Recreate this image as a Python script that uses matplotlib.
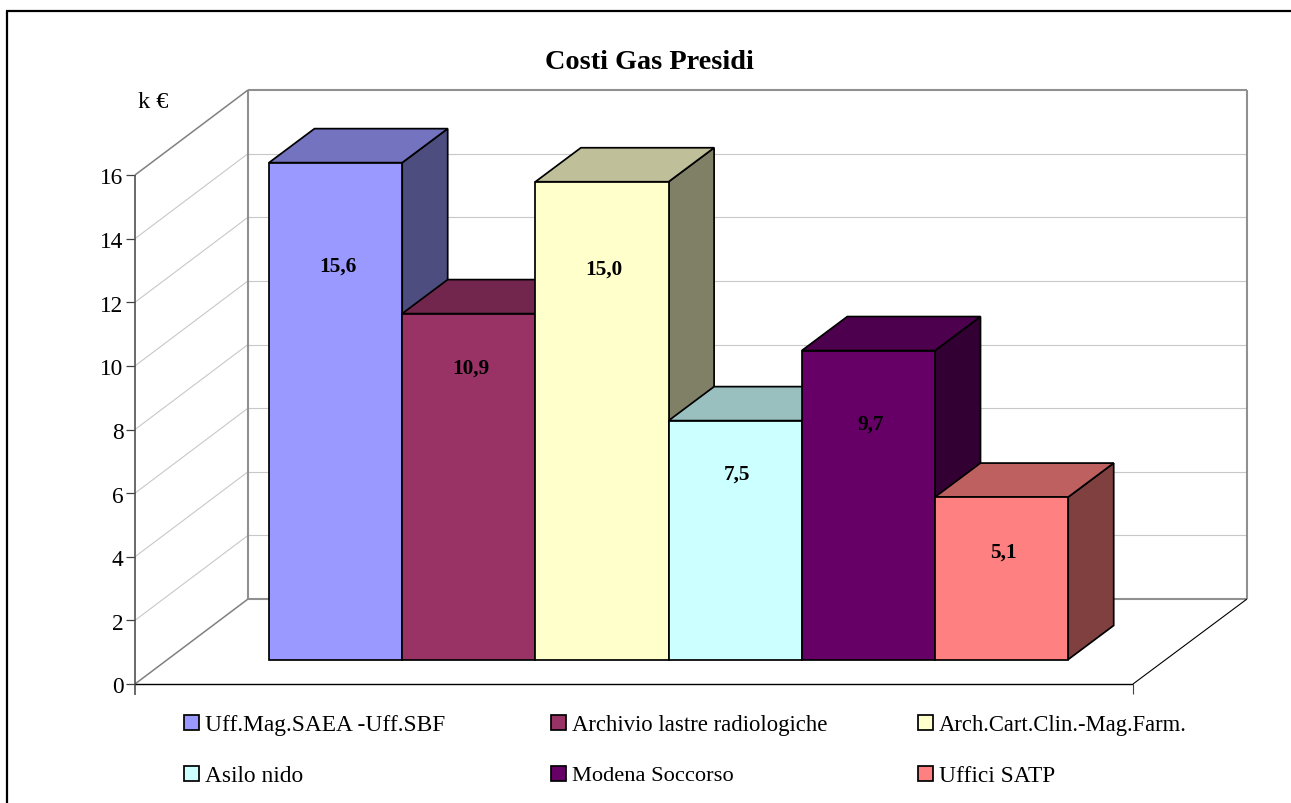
import matplotlib
matplotlib.use("Agg")
import matplotlib.pyplot as plt
from matplotlib.patches import Polygon, Rectangle

categories = ["Uff.Mag.SAEA -Uff.SBF", "Archivio lastre radiologiche", "Arch.Cart.Clin.-Mag.Farm.",
              "Asilo nido", "Modena Soccorso", "Uffici SATP"]
values = [15.6, 10.86, 15.0, 7.5, 9.7, 5.1]
value_labels = ["15,6", "10,9", "15,0", "7,5", "9,7", "5,1"]
colors = ["#9999FF", "#993366", "#FFFFCC", "#CCFFFF", "#660066", "#FF8080"]
y_ticks = [0, 2, 4, 6, 8, 10, 12, 14, 16]
title = "Costi Gas Presidi"
unit = "k €"

W, H = 1291, 804
X0, BW = 269.0, 133.2     # pixel of first bar edge, bar width
Y0, PU = 660.5, 31.85     # pixel of bar base, pixels per unit
DX, DY = 45.5, 34.0       # bar depth in pixels
label_drop = [103, 54, 87, 53, 73, 55]  # label centre, pixels below bar top
legend_sizes = [16.8, 16.35, 16.3, 16.8, 16.2, 16.8]

plt.rcParams["font.family"] = ["Liberation Serif", "DejaVu Serif"]
fig = plt.figure(figsize=(W / 100, H / 100), dpi=100, facecolor="white")
ax = fig.add_axes([0, 0, 1, 1])
ax.set_xlim(-X0 / BW, (W - X0) / BW)
ax.set_ylim((Y0 - H) / PU, Y0 / PU)
ax.axis("off")

def P(px, py):
    return ((px - X0) / BW, (Y0 - py) / PU)

def line(p1, p2, c, lw, z=1):
    a, b = P(*p1), P(*p2)
    ax.plot([a[0], b[0]], [a[1], b[1]], color=c, lw=lw, zorder=z, solid_capstyle="butt")

# chart border (left and top only reach the image)
line((7, 804), (7, 12), "black", 1.6)
line((6.4, 12), (1291, 12), "black", 1.6)

# walls
FL, FR, FB, FT = 135, 1133, 685, 176
BL, BR, BB, BT = 248, 1247, 600, 91
step = (FB - FT) / 16
for t in y_ticks[1:-1]:
    yf = FB - t * step
    yb = BB - t * step
    line((FL, yf), (BL, yb), "#C8C8C8", 0.8)
    line((BL, yb), (BR, yb), "#C8C8C8", 0.8)
for t in y_ticks:
    yf = FB - t * step
    line((126, yf), (FL, yf), "#404040", 0.9)
    ax.text(*P(123.5, yf + 3), str(t), ha="right", va="center", fontsize=16.8, color="black")
line((BL, BT), (BR, BT), "#909090", 1.5)
line((BR, BT), (BR, BB), "#909090", 1.5)
line((BL, BT), (BL, BB), "#909090", 1.5)
line((BL, BB), (BR, BB), "#909090", 1.5)
line((FL, FT), (BL, BT), "#808080", 1.1)
line((FL, FB), (BL, BB), "#808080", 1.1)
line((FL, FT), (FL, 696), "#505050", 1.2)
line((FL, FB), (FR, FB), "black", 1.0)
line((FR, FB), (BR, BB), "black", 0.8)
line((FR, FB), (FR, 695), "#404040", 0.8)

# bars
ddx, ddy = DX / BW, DY / PU
def shade(col, f):
    r, g, b = matplotlib.colors.to_rgb(col)
    return (r * f, g * f, b * f)

for i, (v, c) in enumerate(zip(values, colors)):
    L, R = float(i), i + 1.0
    kw = dict(edgecolor="black", lw=1.25, joinstyle="miter")
    ax.add_patch(Polygon([(R, 0), (R + ddx, ddy), (R + ddx, v + ddy), (R, v)],
                         facecolor=shade(c, 0.5), zorder=2 + i, **kw))
    ax.add_patch(Polygon([(L, v), (R, v), (R + ddx, v + ddy), (L + ddx, v + ddy)],
                         facecolor=shade(c, 0.75), zorder=2 + i, **kw))
    ax.add_patch(Rectangle((L, 0), 1, v, facecolor=c, zorder=2 + i, **kw))
    ax.text(i + 0.515, v - label_drop[i] / PU, value_labels[i], ha="center", va="center",
            fontsize=15.3, fontweight="bold", color="black", zorder=20)

# titles
ax.text(*P(649, 62.5), title, ha="center", va="center", fontsize=20.3, fontweight="bold")
ax.text(*P(153.5, 103), unit, ha="center", va="center", fontsize=17.5)

# legend
col_x = [184, 551, 918]
row_y = [724, 775]
for i, (n, c) in enumerate(zip(categories, colors)):
    x, y = col_x[i % 3], row_y[i // 3]
    a = P(x, y + 7)
    ax.add_patch(Rectangle(a, 15 / BW, 15 / PU, facecolor=c, edgecolor="black", lw=1.25, zorder=3))
    ax.text(*P(x + 21, y + 2), n, ha="left", va="center", fontsize=legend_sizes[i])

fig.savefig("out.png", dpi=100)
